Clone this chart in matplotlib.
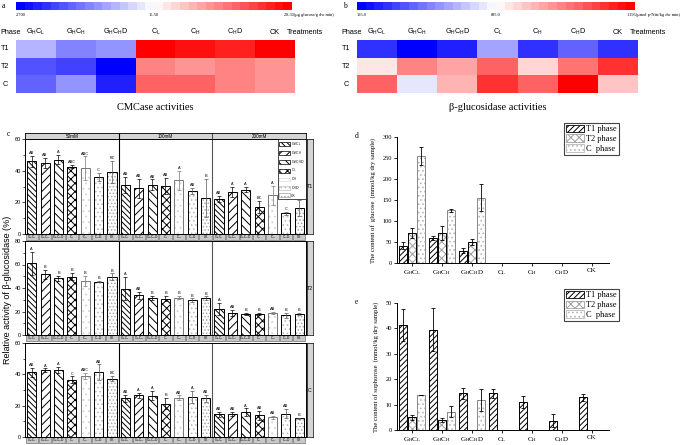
import matplotlib
matplotlib.use('Agg')
import matplotlib.pyplot as plt
import matplotlib.transforms as mtransforms
from matplotlib.colors import Normalize
from matplotlib.cm import ScalarMappable
from matplotlib.patches import Rectangle, Patch
from matplotlib.ticker import AutoMinorLocator, MultipleLocator

plt.rcParams['font.family'] = ['Liberation Sans', 'DejaVu Sans']
plt.rcParams['mathtext.fontset'] = 'custom'
plt.rcParams['mathtext.rm'] = 'Liberation Sans'
plt.rcParams['mathtext.it'] = 'Liberation Sans:italic'
plt.rcParams['hatch.linewidth'] = 0.7

W, H = 685, 445

# ---- data ----
treat = [r'G$_{\rm H}$C$_{\rm L}$', r'G$_{\rm H}$C$_{\rm H}$', r'G$_{\rm H}$C$_{\rm H}$D',
         r'C$_{\rm L}$', r'C$_{\rm H}$', r'C$_{\rm H}$D', 'CK']
phases = ['T1', 'T2', 'C']

# heatmap a: CMCase (ug glucose/g dw min)
cmc = [[11.5, 9.5, 9.9, 28.3, 27.1, 26.3, 28.3],
       [7.1, 5.9, 2.7, 21.5, 20.3, 21.3, 20.5],
       [7.7, 10.7, 4.7, 23.1, 23.1, 21.3, 20.3]]
# heatmap b: beta-glucosidase (umol p-Nitr/kg dw min)
bglu = [[289, 195, 277, 509, 289, 383, 305],
        [756, 928, 881, 999, 787, 960, 1085],
        [999, 634, 850, 1070, 999, 1195, 819]]

# panel c: relative activity, 3 concentrations x 7 treatments per phase
conc = ['50mM', '100mM', '200mM']
t1_mean = [46, 45, 47, 42.5, 41.5, 36, 39,
           31, 29, 31, 30.5, 34, 27, 23,
           22, 26.5, 28, 17, 24.5, 13, 16.5]
t1_err = [3.5, 3, 3, 1, 7.5, 2.5, 7,
          5, 6, 3.5, 5, 6, 2, 12,
          2, 3, 1.5, 4, 6, 0.8, 5]
t1_sig = ['AB', 'AB', 'A', 'ABC', 'ABC', 'C', 'BC',
          'AB', 'AB', 'AB', 'AB', 'A', 'AB', 'B',
          'AB', 'A', 'A', 'BC', 'A', 'C', 'BC']
t2_mean = [61, 51.7, 48.3, 49.7, 46, 45.2, 49.4,
           39.5, 33.9, 31.4, 31, 31.9, 29.7, 31.4,
           22, 18.6, 17.8, 17.8, 18.6, 16.7, 17.8]
t2_err = [10, 4, 2, 3, 4, 0.5, 3,
          10, 3, 2, 2, 1.5, 1.5, 1.5,
          5, 2.5, 1, 1, 1, 2, 1]
t2_sig = ['A', 'B', 'B', 'B', 'B', 'B', 'B',
          'A', 'AB', 'B', 'B', 'B', 'B', 'B',
          'A', 'AB', 'B', 'B', 'AB', 'B', 'B']
c_mean = [41.3, 42.8, 43, 36.7, 39, 41.3, 37.3,
          24.6, 26.5, 26.3, 21.2, 25, 25.6, 24.6,
          14.4, 14.6, 15.7, 13.8, 12.5, 15, 11.9]
c_err = [3, 1, 2, 2, 2, 5, 1.5,
         2, 1.5, 3, 3.5, 1.5, 4, 2,
         1.5, 1.5, 2.5, 3, 0.8, 3, 0.5]
c_sig = ['AB', 'A', 'A', 'C', 'ABC', 'AB', 'BC',
         'AB', 'A', 'A', 'B', 'AB', 'A', 'AB',
         'AB', 'AB', 'A', 'AB', 'AB', 'AB', 'B']

# panel d: glucose content (mmol/kg dry sample)
glu_t1 = [41, 60, 29, 0, 0, 0, 0]
glu_t1_err = [8, 5, 6, 0, 0, 0, 0]
glu_t2 = [71, 71, 51, 0, 0, 0, 0]
glu_t2_err = [12, 16, 7, 0, 0, 0, 0]
glu_c = [255, 125.5, 155.5, 0, 0, 0, 0]
glu_c_err = [22, 3, 32, 0, 0, 0, 0]

# panel e: sophorose content (mmol/kg dry sample)
sop_t1 = [41.4, 39.5, 14.5, 14.5, 11, 3.7, 12.9]
sop_t1_err = [6.4, 8.5, 2.2, 1.8, 2.2, 2.5, 1.4]
sop_t2 = [5, 4.1, 0, 0, 0, 0, 0]
sop_t2_err = [0.9, 0.8, 0, 0, 0, 0, 0]
sop_c = [13.7, 7.2, 11.8, 0, 0, 0, 0]
sop_c_err = [0, 2.1, 4.2, 0, 0, 0, 0]

fig = plt.figure(figsize=(W / 100, H / 100), dpi=100)


def px_axes(x0, y0, x1, y1):
    return fig.add_axes([x0 / W, 1 - y1 / H, (x1 - x0) / W, (y1 - y0) / H])


def ftext(x, y, s, **kw):
    fig.text(x / W, 1 - y / H, s, **kw)


cmap = plt.get_cmap('bwr', 32)


def heatmap(x0, x1, vals, vmin, vmax, letter, tlabels, title):
    norm = Normalize(vmin, vmax)
    cax = px_axes(x0, 2, x1 - 3, 10)
    cb = fig.colorbar(ScalarMappable(norm=norm, cmap=cmap), cax=cax, orientation='horizontal')
    cb.outline.set_visible(False)
    cax.set_xticks([])
    ftext(x0 - 14, 6, letter, fontsize=5.5, family='Liberation Serif', va='center')
    ftext(x0, 15, tlabels[0], fontsize=3.2, family='Liberation Serif', va='center')
    ftext((x0 + x1) / 2 - 2, 15, tlabels[1], fontsize=3.2, family='Liberation Serif',
          va='center', ha='center')
    ftext(x1 - 11, 15, tlabels[2], fontsize=3.2, family='Liberation Serif', va='center')

    ax = px_axes(x0, 40, x1, 93)
    ax.imshow(vals, cmap=cmap, norm=norm, aspect='auto', interpolation='nearest')
    ax.set_axis_off()
    for j, t in enumerate(treat):
        ax.text(j, -0.95, t, fontsize=5.2, ha='center', va='center', clip_on=False)
    ax.text(6.3, -0.95, 'Treatments', fontsize=5.2, ha='left', va='center', clip_on=False)
    ftext(x0 - 16, 32, 'Phase', fontsize=5.2, ha='left', va='center')
    for i, p in enumerate(phases):
        ax.text(-0.78, i, p, fontsize=5.2, ha='center', va='center', clip_on=False)
    ftext((x0 + x1) / 2, 107, title, fontsize=7.5, family='Liberation Serif',
          ha='center', va='center')


heatmap(16, 295, cmc, 2.7, 28.3, 'a', ['2.700', '15.50', '28.30(\u03bcg glucose/g dw min)'],
        'CMCase activities')
heatmap(357, 638, bglu, 195, 1195, 'b', ['195.0', '695.0', '1195(\u03bcmol p-Nitr/kg dw min)'],
        '\u03b2-glucosidase activities')

# ---- panel c ----
c_hatch = ['\\\\\\\\\\\\', '////', '\\\\\\\\', 'xxxx', '...', '....', '.....']
c_hcol = ['k', 'k', 'k', 'k', '#d8d8d8', '#bdbdbd', '#a8a8a8']
c_edge = ['k', 'k', 'k', 'k', '#777777', 'k', 'k']
c_ecol = ['k', 'k', 'k', 'k', '#777777', '#555555', '#555555']

ftext(7, 134, 'c', fontsize=5.5, family='Liberation Serif', va='center')
ftext(8, 290, 'Relative activity of \u03b2-glucosidase (%)', fontsize=6.5,
      rotation=90, ha='center', va='center')

strip = px_axes(25, 133, 306, 139)
strip.set_facecolor('#d4d4d4')
strip.set_xlim(-0.5, 20.5)
strip.set_xticks([])
strip.set_yticks([])
for g, cn in enumerate(conc):
    strip.text(g * 7 + 3, 0.5, cn, fontsize=3.3, ha='center', va='center',
               transform=mtransforms.blended_transform_factory(strip.transData, strip.transAxes))
strip.axvline(6.5, color='k', lw=0.8)
strip.axvline(13.5, color='#555555', lw=0.8)
for s in strip.spines.values():
    s.set_linewidth(0.6)

rows = [(t1_mean, t1_err, t1_sig, 60, 139, 234, 'T1'),
        (t2_mean, t2_err, t2_sig, 80, 241, 335, 'T2'),
        (c_mean, c_err, c_sig, 60, 343, 437, 'C')]
xs = [g * 7 + j for g in range(3) for j in range(7)]
for ri, (mean, err, sig, ymax, y0, y1, lab) in enumerate(rows):
    ax = px_axes(25, y0, 306, y1)
    for j in range(7):
        idx = [g * 7 + j for g in range(3)]
        xx = [xs[k] for k in idx]
        mm = [mean[k] for k in idx]
        ee = [err[k] for k in idx]
        ax.bar(xx, mm, width=0.68, color='white', edgecolor=c_hcol[j], hatch=c_hatch[j],
               linewidth=0, zorder=2)
        ax.bar(xx, mm, width=0.68, fill=False, edgecolor=c_edge[j], linewidth=0.7, zorder=3)
        ax.errorbar(xx, mm, yerr=ee, fmt='none', ecolor=c_ecol[j], elinewidth=0.5,
                    capsize=1.3, capthick=0.5, zorder=4)
    for k in range(21):
        ax.annotate(sig[k], (xs[k], mean[k] + err[k]), xytext=(0, 0.6),
                    textcoords='offset points', fontsize=2.8, ha='center', va='bottom')
    ax.set_xlim(-0.5, 20.5)
    ax.set_ylim(0, ymax)
    ax.set_xticks([])
    ax.yaxis.set_major_locator(MultipleLocator(20))
    ax.yaxis.set_minor_locator(AutoMinorLocator(2))
    ax.tick_params(axis='y', which='major', labelsize=4, length=2, width=0.5, pad=1)
    ax.tick_params(axis='y', which='minor', length=1.2, width=0.5)
    ax.axvline(6.5, color='k', lw=0.8)
    ax.axvline(13.5, color='#555555', lw=0.8)
    for s in ax.spines.values():
        s.set_linewidth(0.7)
    # treatment label boxes under each bar
    tr = mtransforms.blended_transform_factory(ax.transData, ax.transAxes)
    bh = 6 / (y1 - y0)
    for k in range(21):
        ax.add_patch(Rectangle((xs[k] - 0.46, -bh), 0.92, bh, transform=tr, clip_on=False,
                               facecolor='#c8c8c8', edgecolor='#555555', linewidth=0.4))
        ax.text(xs[k], -bh / 2, treat[k % 7], transform=tr, fontsize=2.3, ha='center',
                va='center', clip_on=False)
    side = px_axes(307, y0, 313, y1)
    side.set_facecolor('#d4d4d4')
    side.set_xticks([])
    side.set_yticks([])
    for s in side.spines.values():
        s.set_linewidth(0.5)
    side.text(0.5, 0.5, lab, fontsize=3.8, ha='center', va='center', transform=side.transAxes)
    if ri == 0:
        handles = [Patch(facecolor='white', edgecolor=c_hcol[j] if j >= 4 else 'k',
                         hatch=c_hatch[j], linewidth=0.5, label=treat[j]) for j in range(7)]
        ax.legend(handles=handles, loc='upper right', bbox_to_anchor=(1.0, 1.0),
                  borderaxespad=0.1, fontsize=2.6, handlelength=3.0, handleheight=1.3,
                  labelspacing=0.35, frameon=True, fancybox=False, edgecolor='k',
                  framealpha=1, borderpad=0.25, handletextpad=0.3).get_frame().set_linewidth(0.5)


# ---- panels d and e ----
def group_bars(y0, y1, t1, t1e, t2, t2e, cc, cce, ymax, step, ylabel, letter):
    ax = px_axes(397, y0, 609, y1)
    x = list(range(7))
    off = 0.3
    w = 0.28
    specs = [(t1, t1e, -off, '//////', 'k', 'k', 'T1 phase'),
             (t2, t2e, 0, 'xxxx', '#a0a0a0', 'k', 'T2 phase'),
             (cc, cce, off, '....', '#b8b8b8', '#888888', 'C  phase')]
    handles = []
    for vals, errs, o, h, hc, ec, lab in specs:
        xx = [xi + o for xi in x]
        ax.bar(xx, vals, width=w, color='white', edgecolor=hc, hatch=h, linewidth=0, zorder=2)
        ax.bar(xx, vals, width=w, fill=False, edgecolor=ec, linewidth=0.7, zorder=3)
        ax.errorbar([xx[i] for i in range(7) if vals[i] > 0],
                    [vals[i] for i in range(7) if vals[i] > 0],
                    yerr=[errs[i] for i in range(7) if vals[i] > 0],
                    fmt='none', ecolor='k', elinewidth=0.6, capsize=1.6, capthick=0.6, zorder=4)
        handles.append(Patch(facecolor='white', edgecolor=hc if hc != 'k' else 'k',
                             hatch=h, linewidth=0.6, label=lab))
    ax.set_xlim(-0.5, 6.57)
    ax.set_ylim(0, ymax)
    ax.yaxis.set_major_locator(MultipleLocator(step))
    ax.set_xticks(x)
    ax.set_xticklabels([r'G$_{\rm H}$C$_{\rm L}$', r'G$_{\rm H}$C$_{\rm H}$',
                        r'G$_{\rm H}$C$_{\rm H}$D', r'C$_{\rm L}$', r'C$_{\rm H}$',
                        r'C$_{\rm H}$D', 'CK'], family='Liberation Serif',
                       math_fontfamily='stix', fontsize=5)
    for t in ax.get_yticklabels():
        t.set_family('Liberation Serif')
    ax.tick_params(axis='both', labelsize=4.6, length=2, width=0.6, pad=1.5)
    ax.tick_params(axis='x', labelsize=5)
    for s in ['top', 'right']:
        ax.spines[s].set_visible(False)
    for s in ['left', 'bottom']:
        ax.spines[s].set_linewidth(0.7)
    ax.set_ylabel(ylabel, fontsize=4.8, family='Liberation Serif', labelpad=5)
    ftext(355, y0 - 1, letter, fontsize=5.5, family='Liberation Serif', va='center')
    leg = ax.legend(handles=handles, loc='upper left',
                    bbox_to_anchor=(564 / W, 1 - (y0 - 14) / H), bbox_transform=fig.transFigure,
                    borderaxespad=0, prop={'family': 'Liberation Serif', 'size': 6},
                    handlelength=2.2, handleheight=1.0, labelspacing=0.15, fancybox=False,
                    edgecolor='#444444', framealpha=1, borderpad=0.2, handletextpad=0.3)
    leg.get_frame().set_linewidth(0.8)
    return ax


group_bars(137, 263, glu_t1, glu_t1_err, glu_t2, glu_t2_err, glu_c, glu_c_err, 300, 50,
           'The content of  glucose  (mmol/kg dry sample)', 'd')
group_bars(303, 430, sop_t1, sop_t1_err, sop_t2, sop_t2_err, sop_c, sop_c_err, 50, 10,
           'The content of sophorose  (mmol/kg dry sample)', 'e')

fig.savefig('out.png', dpi=100)
